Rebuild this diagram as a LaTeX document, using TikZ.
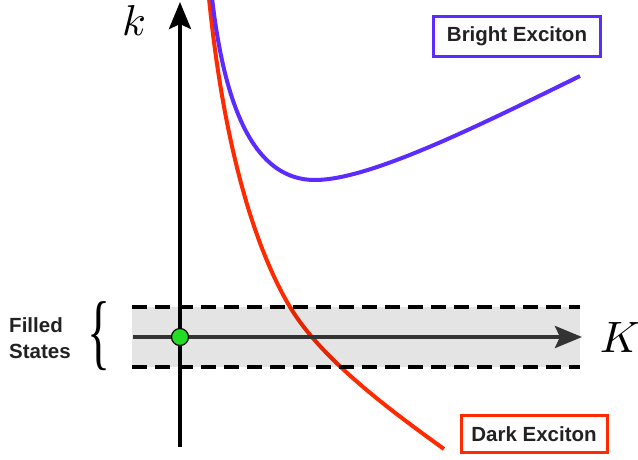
\documentclass[tikz,border=0pt]{standalone}
\usepackage{fontspec}
\newfontfamily\labfont{Liberation Sans}
\newfontfamily\bracefont{Liberation Serif}
\usetikzlibrary{arrows.meta}
\definecolor{brightc}{HTML}{5B2BFF}
\definecolor{darkc}{HTML}{FF2A00}
\definecolor{bandc}{HTML}{E4E4E4}
\definecolor{axisc}{HTML}{333333}
\definecolor{dotc}{HTML}{22DD22}
\definecolor{txtc}{HTML}{222222}
\tikzset{
  curveline/.style={line width=4pt},
  labbox/.style={draw, line width=3pt, inner sep=0pt, text=txtc, font=\labfont\bfseries\fontsize{20.5}{24}\selectfont},
  dashline/.style={line width=4pt, dash pattern=on 15pt off 8pt},
  axislabel/.style={inner sep=0pt},
}
\begin{document}
\begin{tikzpicture}[x=1pt,y=-1pt]
\useasboundingbox (0,0) rectangle (638,459);
% red curve (drawn beneath the band)
\coordinate (r0) at (209,-2);
\coordinate (r1) at (290,307);
\coordinate (r2) at (444,449);
\draw[curveline, darkc] (r0) .. controls (222,130) and (250,240) .. (r1)
  .. controls (322,360) and (390,410) .. (r2);
% band
\fill[bandc, blend mode=multiply] (132,307) rectangle (580,367);
\coordinate (dl1) at (132,307);
\coordinate (dr1) at (580,307);
\coordinate (dl2) at (132,367);
\coordinate (dr2) at (580,367);
\draw[dashline] (dl1) -- (dr1);
\draw[dashline] (dl2) -- (dr2);
% blue curve
\coordinate (b0) at (212,-2);
\coordinate (b1) at (315,180);
\coordinate (b2) at (580,76);
\draw[curveline, brightc] (b0) .. controls (225,110) and (255,180) .. (b1)
  .. controls (370,180) and (480,125) .. (b2);
% axes
\coordinate (hs) at (133,337);
\coordinate (he) at (582,337);
\draw[line width=4pt, axisc, -{Stealth[length=27pt,width=22pt,inset=5pt]}] (hs) -- (he);
\coordinate (vs) at (180,447);
\coordinate (ve) at (180,2);
\draw[line width=4pt, black, -{Stealth[length=27pt,width=22pt,inset=5pt]}] (vs) -- (ve);
% origin dot
\node (dot) [circle, fill=dotc, draw=black, line width=1.2pt, minimum size=17pt, inner sep=0pt] at (180,337) {};
% axis labels
\node (klab) [axislabel] at (134,20) {\resizebox*{!}{30pt}{$k$}};
\node (Klab) [axislabel] at (620,337) {\resizebox*{!}{30pt}{$K$}};
% filled states
\node (fs) [align=left, text=txtc, font=\labfont\bfseries\fontsize{20.5}{26}\selectfont, inner sep=0pt] at (40,338) {Filled\\States};
\node (brace) [inner sep=0pt] at (99,336) {\resizebox*{23pt}{69pt}{\bracefont\{}};
% labels
\node (bright) [labbox, draw=brightc, minimum width=167pt, minimum height=40pt] at (517,36) {Bright Exciton};
\node (dark) [labbox, draw=darkc, minimum width=146pt, minimum height=37pt] at (534,434) {Dark Exciton};
\end{tikzpicture}
\end{document}
